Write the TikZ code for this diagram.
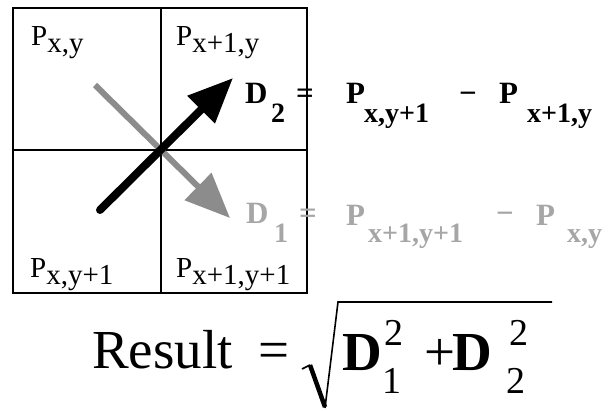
\documentclass[tikz,border=0pt]{standalone}
\usepackage{fontspec}
\setmainfont{Liberation Serif}
\usepackage{tikz}
\usetikzlibrary{arrows.meta}

\begin{document}
\begin{tikzpicture}[x=1pt,y=-1pt,>=Latex,
  lab/.style={anchor=base west,inner sep=0pt,font=\fontsize{29}{30}\selectfont},
  eqn/.style={anchor=base west,inner sep=0pt,font=\fontsize{31}{32}\selectfont\bfseries},
  subs/.style={anchor=base west,inner sep=0pt,font=\fontsize{28}{30}\selectfont\bfseries},
  big/.style={anchor=base west,inner sep=0pt,font=\fontsize{55}{60}\selectfont},
  scr/.style={anchor=base west,inner sep=0pt,font=\fontsize{38}{40}\selectfont}]
  \useasboundingbox (0,0) rectangle (610,410);
  % grid of four pixels
  \draw[line width=2.4pt] (13,8) rectangle (307,293);
  \draw[line width=2.4pt] (161,8) -- (161,293);
  \draw[line width=2.4pt] (13,150) -- (307,150);
  \foreach \px/\py/\sb/\nm in {31/45/{x,y}/pa,176/45/{x+1,y}/pb,30/277/{x,y+1}/pc,176/277/{x+1,y+1}/pd}
    \node[lab] (\nm) at (\px,\py) {P\raisebox{-7pt}{\sb}};

  % the two differences
  \coordinate (gs) at (95,85);
  \coordinate (gt) at (230,218);
  \coordinate (bs) at (100,210);
  \coordinate (bt) at (233,78);
  \draw[-{Triangle[length=45pt,width=37pt]},line width=6pt,black!45] (gs) -- (gt);
  \draw[-{Triangle[length=45pt,width=37pt]},line width=8pt,line cap=round] (bs) -- (bt);

  \node[eqn] (d2) at (245,103) {D};
  \node[subs] (d2s) at (271,122) {2};
  \node[eqn] (e2) at (296,103) {=};
  \node[eqn] (p21) at (346,103) {P};
  \node[subs] (p21s) at (364,122) {x,y+1};
  \node[eqn] (m2) at (459,103) {−};
  \node[eqn] (p22) at (499,103) {P};
  \node[subs] (p22s) at (527,122) {x+1,y};

  \begin{scope}[text=black!35]
    \node[eqn] (d1) at (246,223) {D};
    \node[subs] (d1s) at (274,242) {1};
    \node[eqn] (e1) at (299,223) {=};
    \node[eqn] (p11) at (346,225) {P};
    \node[subs] (p11s) at (368,242) {x+1,y+1};
    \node[eqn] (m1) at (496,223) {−};
    \node[eqn] (p12) at (536,225) {P};
    \node[subs] (p12s) at (567,242) {x,y};
  \end{scope}

  % result
  \node[big] (res) at (92,368) {Result};
  \node[big] (req) at (258,368) {=};
  \draw[line width=1.6pt] (302,369) -- (310,365);
  \draw[line width=4.5pt] (310,365) -- (325,407);
  \draw[line width=1.6pt] (325,408) -- (338,302) -- (552,302);
  \node[big,font=\fontsize{55}{60}\selectfont\bfseries] (rd1) at (342,370) {D};
  \node[scr] (rd1b) at (382,393) {1};
  \node[scr] (rd1p) at (384,345) {2};
  \node[big] (rplus) at (424,370) {+};
  \node[big,font=\fontsize{55}{60}\selectfont\bfseries] (rd2) at (452,370) {D};
  \node[scr] (rd2b) at (506,393) {2};
  \node[scr] (rd2p) at (509,345) {2};
\end{tikzpicture}
\end{document}
